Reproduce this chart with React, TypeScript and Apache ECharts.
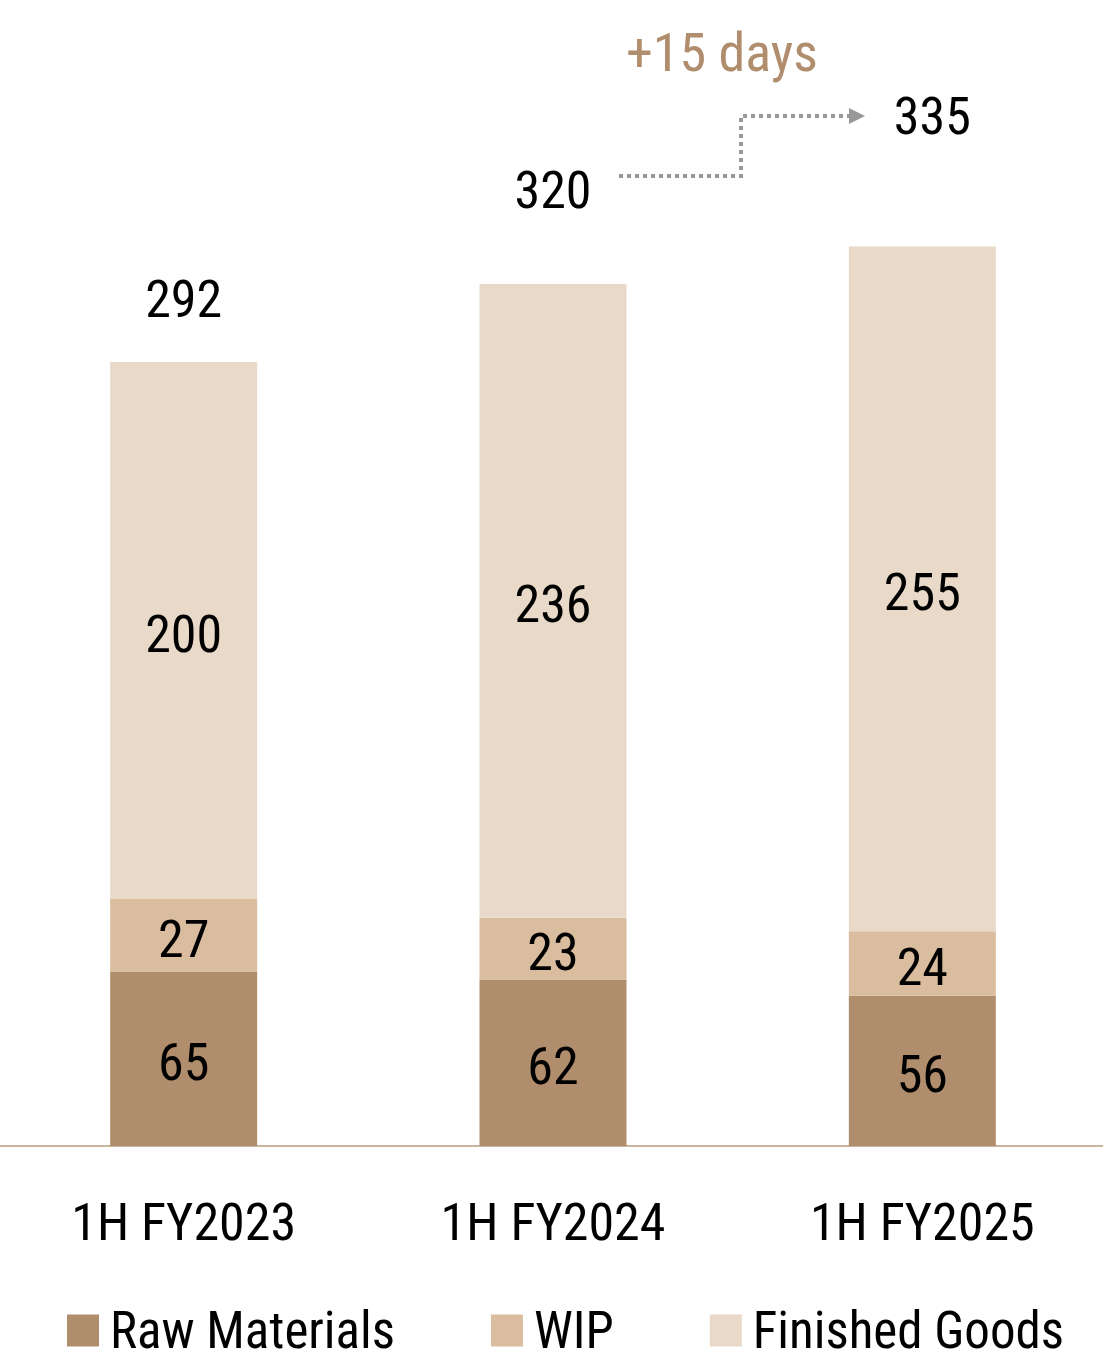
import React, { useEffect, useRef } from "react";
import * as echarts from "echarts";

const categories = ["1H FY2023", "1H FY2024", "1H FY2025"];
const rawMaterials = [65, 62, 56];
const wip = [27, 23, 24];
const finishedGoods = [200, 236, 255];
const totals = [292, 320, 335];
const changeLabel = "+15 days";

const FONT = "'Roboto Condensed', 'Liberation Sans Narrow', 'Arial Narrow', Roboto, sans-serif";
const totalOffsets = [[0, -62], [0, -96], [10, -130]];

export default function App() {
  const ref = useRef<HTMLDivElement>(null);
  useEffect(() => {
    document.body.style.margin = "0";
    const chart = echarts.init(ref.current!, null, { renderer: "svg" });
    const segLabel = {
      show: true,
      position: "inside",
      offset: [0, 4],
      color: "#000",
      fontSize: 52,
      fontFamily: FONT,
    };
    chart.setOption({
      animation: false,
      grid: { left: 0, right: 2, top: 72, bottom: 213 },
      legend: {
        left: 63,
        top: 1300,
        itemWidth: 32,
        itemHeight: 32,
        itemGap: 96,
        icon: "rect",
        textStyle: { fontSize: 51, lineHeight: 40, fontFamily: FONT, color: "#000", padding: [0, 0, 0, 6] },
        data: ["Raw Materials", "WIP", "Finished Goods"],
      },
      xAxis: {
        type: "category",
        data: categories,
        axisLine: { lineStyle: { color: "#c9b49e", width: 2 } },
        axisTick: { show: false },
        axisLabel: { fontSize: 52, fontFamily: FONT, color: "#000", margin: 50 },
      },
      yAxis: { type: "value", min: 0, max: 400, show: false },
      series: [
        {
          name: "Raw Materials",
          type: "bar",
          stack: "inv",
          barWidth: 147,
          data: rawMaterials,
          itemStyle: { color: "#b08d6c" },
          label: segLabel,
        },
        {
          name: "WIP",
          type: "bar",
          stack: "inv",
          data: wip,
          itemStyle: { color: "#dabd9f" },
          label: segLabel,
        },
        {
          name: "Finished Goods",
          type: "bar",
          stack: "inv",
          data: finishedGoods,
          itemStyle: { color: "#e8d9c8" },
          label: segLabel,
        },
        {
          name: "Total",
          type: "scatter",
          symbolSize: 0,
          silent: true,
          itemStyle: { opacity: 1 },
          label: { show: true, color: "#000", opacity: 1, fontSize: 52, fontFamily: FONT },
          data: totals.map((t, i) => ({
            value: [i, t],
            label: {
              show: true,
              position: "inside",
              offset: totalOffsets[i],
              formatter: String(t),
              color: "#000",
              opacity: 1,
              fontSize: 52,
              fontFamily: FONT,
            },
          })),
        },
      ],
      graphic: [
        {
          type: "polyline",
          shape: { points: [[620, 176], [742, 176], [742, 116], [852, 116]] },
          style: { stroke: "#999999", lineWidth: 4, lineDash: [4, 4], fill: null },
        },
        {
          type: "polygon",
          shape: { points: [[850, 108], [866, 116], [850, 124]] },
          style: { fill: "#999999" },
        },
        {
          type: "text",
          x: 723,
          y: 52,
          style: {
            text: changeLabel,
            fill: "#b08d6c",
            fontSize: 54,
            fontFamily: FONT,
            align: "center",
            verticalAlign: "middle",
          },
        },
      ],
    });
    return () => chart.dispose();
  }, []);
  return (
    <div style={{ width: 1103, height: 1359, overflow: "hidden", position: "relative" }}>
      <div ref={ref} style={{ position: "absolute", left: -1, top: 0, width: 1110, height: 1359 }} />
    </div>
  );
}
